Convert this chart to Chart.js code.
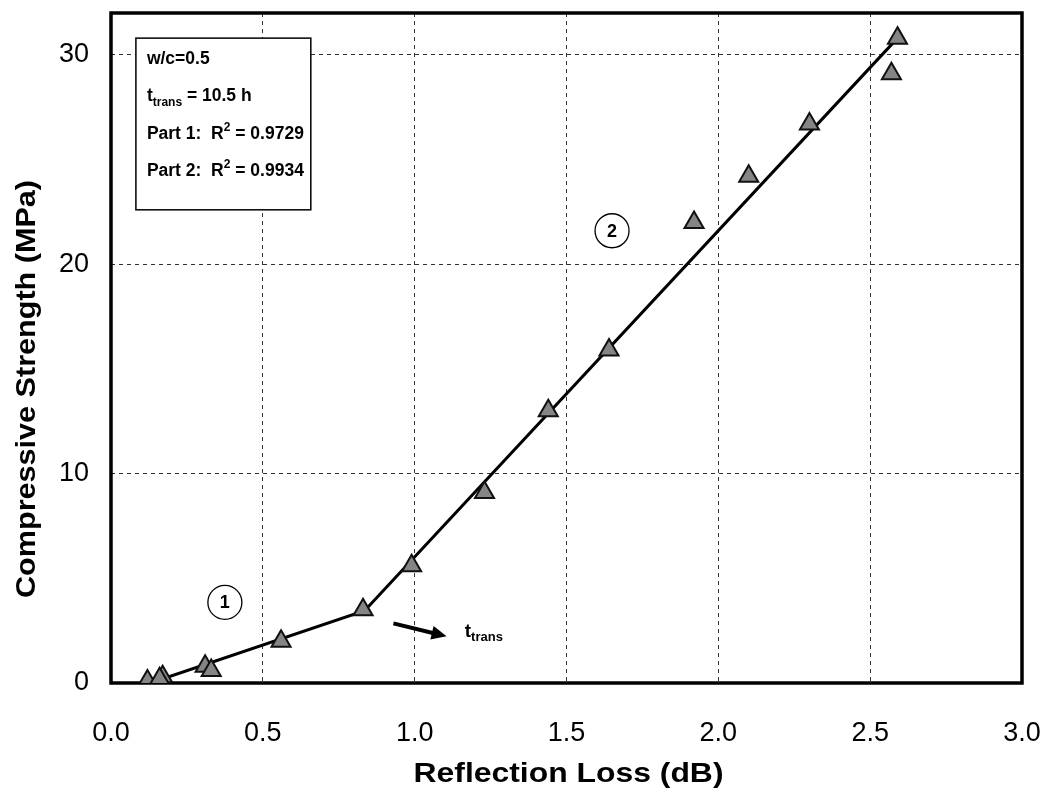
<!DOCTYPE html>
<html lang="en">
<head>
    <meta charset="UTF-8">
    <title>Compressive Strength vs Reflection Loss</title>
    <script src="https://cdn.jsdelivr.net/npm/chart.js"></script>
    <style>
        body { margin: 0; background: #fff; }
        canvas { display: block; }
    </style>
</head>
<body>
    <canvas id="strengthChart" width="1049" height="794"></canvas>
    <script>
        // Measured points
        const reflectionLoss = [0.12, 0.17, 0.16, 0.31, 0.33, 0.56, 0.83, 0.99, 1.23, 1.44, 1.64, 1.92, 2.10, 2.30, 2.57, 2.59];
        const strength = [0.1, 0.3, 0.2, 0.8, 0.6, 2.0, 3.5, 5.6, 9.1, 13.0, 15.9, 22.0, 24.2, 26.7, 29.1, 30.8];

        // Two-part bilinear fit: start, transition, end
        const fitX = [0.13, 0.835, 2.59];
        const fitY = [0.0, 3.45, 30.8];

        const xTicks = [0.0, 0.5, 1.0, 1.5, 2.0, 2.5, 3.0];
        const yTicks = [0, 10, 20, 30];

        const xTitle = 'Reflection Loss (dB)';
        const yTitle = 'Compressive Strength (MPa)';
        const infoLines = ['w/c=0.5', 't_trans = 10.5 h', 'Part 1:  R2 = 0.9729', 'Part 2:  R2 = 0.9934'];

        const FONT = '"Liberation Sans", Arial, sans-serif';

        // draws text with subscript "trans" and superscript 2
        function drawRich(ctx, x, y, line, size) {
            ctx.textBaseline = 'middle';
            ctx.textAlign = 'left';
            const big = 'bold ' + size + 'px ' + FONT;
            const small = 'bold ' + Math.round(size * 0.7) + 'px ' + FONT;
            const parts = [];
            if (line.startsWith('t_trans')) {
                parts.push(['t', big, 0], ['trans', small, size * 0.32], [line.slice(7), big, 0]);
            } else if (line.includes('R2')) {
                const i = line.indexOf('R2');
                parts.push([line.slice(0, i + 1), big, 0], ['2', small, -size * 0.38], [line.slice(i + 2), big, 0]);
            } else {
                parts.push([line, big, 0]);
            }
            let cx = x;
            parts.forEach(p => {
                ctx.font = p[1];
                ctx.fillText(p[0], cx, y + p[2]);
                cx += ctx.measureText(p[0]).width;
            });
        }

        // axis title stretched horizontally (the scanned font is wide)
        function drawTitle(ctx, text, cx, cy, rot, targetW) {
            ctx.save();
            ctx.font = 'bold 27px ' + FONT;
            ctx.textAlign = 'center';
            ctx.textBaseline = 'middle';
            ctx.fillStyle = '#000';
            const sx = targetW / ctx.measureText(text).width;
            ctx.translate(cx, cy);
            ctx.rotate(rot);
            ctx.scale(sx, 1);
            ctx.fillText(text, 0, 0);
            ctx.restore();
        }

        const decorations = {
            id: 'decorations',
            beforeDatasetsDraw(chart) {
                const { ctx, chartArea: a } = chart;
                ctx.save();
                ctx.strokeStyle = '#000';
                ctx.lineWidth = 3.5;
                ctx.strokeRect(a.left, a.top, a.right - a.left, a.bottom - a.top);
                ctx.restore();
            },
            afterDraw(chart) {
                const { ctx, chartArea: a } = chart;
                const xs = chart.scales.x, ys = chart.scales.y;
                ctx.save();

                drawTitle(ctx, xTitle, (a.left + a.right) / 2 + 2, 775, 0, 310);
                drawTitle(ctx, yTitle, 28, 389, -Math.PI / 2, 418);

                // info box
                const bx = xs.getPixelForValue(0.082), by = ys.getPixelForValue(30.8);
                const bx2 = xs.getPixelForValue(0.658), by2 = ys.getPixelForValue(22.6);
                ctx.fillStyle = '#fff';
                ctx.fillRect(bx, by, bx2 - bx, by2 - by);
                ctx.strokeStyle = '#000';
                ctx.lineWidth = 1.5;
                ctx.strokeRect(bx, by, bx2 - bx, by2 - by);
                ctx.fillStyle = '#000';
                infoLines.forEach((l, i) => drawRich(ctx, bx + 11, by + 21 + i * 37.5, l, 17.5));

                // circled part numbers
                [[0.375, 3.85, '1'], [1.65, 21.6, '2']].forEach(c => {
                    const px = xs.getPixelForValue(c[0]), py = ys.getPixelForValue(c[1]);
                    ctx.beginPath();
                    ctx.arc(px, py, 17, 0, Math.PI * 2);
                    ctx.lineWidth = 1.3;
                    ctx.strokeStyle = '#000';
                    ctx.stroke();
                    ctx.font = 'bold 18px ' + FONT;
                    ctx.textAlign = 'center';
                    ctx.textBaseline = 'middle';
                    ctx.fillText(c[2], px, py + 1);
                });

                // arrow to t_trans
                const ax1 = xs.getPixelForValue(0.93), ay1 = ys.getPixelForValue(2.85);
                const ax2 = xs.getPixelForValue(1.105), ay2 = ys.getPixelForValue(2.23);
                const ang = Math.atan2(ay2 - ay1, ax2 - ax1);
                ctx.beginPath();
                ctx.moveTo(ax1, ay1);
                ctx.lineTo(ax2 - 10 * Math.cos(ang), ay2 - 10 * Math.sin(ang));
                ctx.lineWidth = 4;
                ctx.stroke();
                ctx.beginPath();
                ctx.moveTo(ax2, ay2);
                ctx.lineTo(ax2 - 15 * Math.cos(ang) + 7 * Math.sin(ang), ay2 - 15 * Math.sin(ang) - 7 * Math.cos(ang));
                ctx.lineTo(ax2 - 15 * Math.cos(ang) - 7 * Math.sin(ang), ay2 - 15 * Math.sin(ang) + 7 * Math.cos(ang));
                ctx.closePath();
                ctx.fill();
                drawRich(ctx, xs.getPixelForValue(1.165), ys.getPixelForValue(2.45), 't_trans', 19);

                ctx.restore();
            }
        };

        const ctx = document.getElementById('strengthChart').getContext('2d');
        const chart = new Chart(ctx, {
            type: 'scatter',
            data: {
                datasets: [{
                    label: 'Bilinear fit',
                    type: 'line',
                    data: fitX.map((x, i) => ({ x: x, y: fitY[i] })),
                    borderColor: '#000',
                    borderWidth: 3,
                    pointRadius: 0,
                    fill: false,
                    tension: 0,
                    order: 2
                }, {
                    label: 'Measured',
                    data: reflectionLoss.map((x, i) => ({ x: x, y: strength[i] })),
                    pointStyle: 'triangle',
                    pointRadius: 11,
                    backgroundColor: '#858585',
                    borderColor: '#111',
                    borderWidth: 2,
                    order: 1
                }]
            },
            options: {
                responsive: false,
                animation: false,
                layout: { padding: { top: 10, right: 27, left: 0, bottom: 0 } },
                plugins: {
                    legend: { display: false },
                    tooltip: { enabled: false }
                },
                scales: {
                    x: {
                        type: 'linear',
                        min: 0,
                        max: 3,
                        afterBuildTicks: s => { s.ticks = xTicks.map(v => ({ value: v })); },
                        afterFit: s => { s.height = 111; s.paddingLeft = 0; s.paddingRight = 0; },
                        ticks: {
                            padding: 34,
                            color: '#000',
                            font: { family: FONT, size: 27 },
                            callback: v => v.toFixed(1)
                        },
                        grid: {
                            drawTicks: false,
                            color: ctx => (ctx.tick && (ctx.tick.value === 0 || ctx.tick.value === 3)) ? 'rgba(0,0,0,0)' : '#333',
                            lineWidth: 1
                        },
                        border: { display: false, dash: [4, 4] },
                        title: { display: false }
                    },
                    y: {
                        type: 'linear',
                        min: 0,
                        max: 32,
                        afterBuildTicks: s => { s.ticks = yTicks.map(v => ({ value: v })); },
                        afterFit: s => { s.width = 111; s.paddingTop = 0; s.paddingBottom = 0; },
                        ticks: {
                            padding: 22,
                            color: '#000',
                            font: { family: FONT, size: 27 }
                        },
                        grid: {
                            drawTicks: false,
                            color: ctx => (ctx.tick && ctx.tick.value === 0) ? 'rgba(0,0,0,0)' : '#333',
                            lineWidth: 1
                        },
                        border: { display: false, dash: [4, 4] },
                        title: { display: false }
                    }
                }
            },
            plugins: [decorations]
        });
    </script>
</body>
</html>
